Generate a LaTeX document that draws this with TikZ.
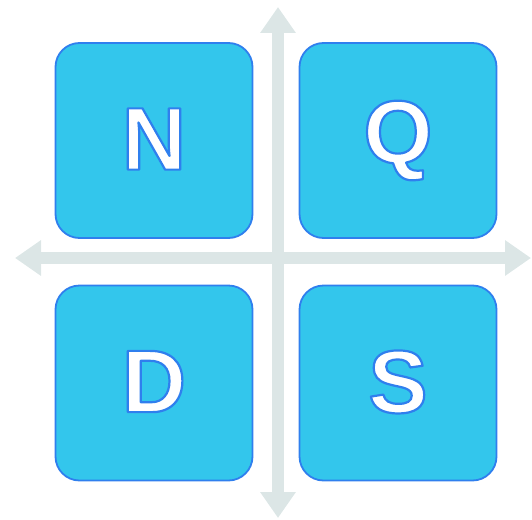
\documentclass[tikz,border=0pt]{standalone}
\usepackage{fontspec}
\setmainfont{Liberation Sans}
\usetikzlibrary{arrows.meta}
\definecolor{axisgray}{HTML}{DCE6E6}
\definecolor{tilefill}{HTML}{33C6EC}
\definecolor{tileedge}{HTML}{2F7FEE}
% white glyphs with a blue outline (fill-and-stroke text rendering mode)
\newcommand{\tileletter}[1]{\raisebox{3pt}{\color{white}%
  \special{pdf:literal 2 Tr 2.2 w 1 j 0.184 0.498 0.933 RG}#1%
  \special{pdf:literal 0 Tr}}}
\tikzset{
  tile/.style={draw=tileedge, fill=tilefill, line width=1.8pt,
    rounded corners=24pt, minimum width=197pt, minimum height=195pt,
    inner sep=0pt, font=\fontsize{89}{89}\selectfont\bfseries},
  axis/.style={draw=axisgray, line width=12pt,
    {Triangle[width=34pt,length=26pt]}-{Triangle[width=34pt,length=26pt]}},
}
\begin{document}
\begin{tikzpicture}[x=1pt,y=-1pt]
  \useasboundingbox (0,0) rectangle (532,519);
  % axes
  \coordinate (top) at (278,7);
  \coordinate (bottom) at (278,518);
  \coordinate (left) at (15,258);
  \coordinate (right) at (531,258);
  \draw[axis] (top) -- (bottom);
  \draw[axis] (left) -- (right);
  % quadrant tiles
  \node[tile] (n) at (154,140.5) {\tileletter{N}};
  \node[tile] (q) at (398,140.5) {\tileletter{Q}};
  \node[tile] (d) at (154,383) {\tileletter{D}};
  \node[tile] (s) at (398,383) {\tileletter{S}};
\end{tikzpicture}
\end{document}
